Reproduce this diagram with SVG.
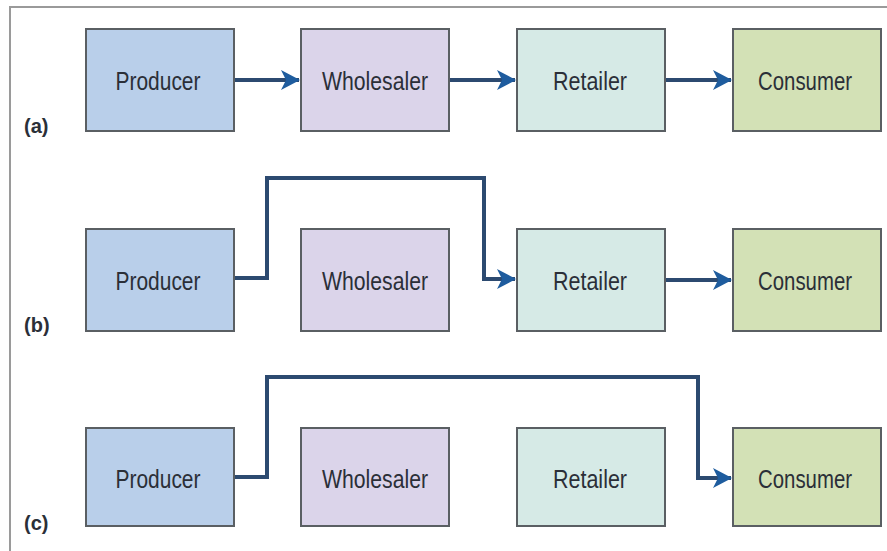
<svg xmlns="http://www.w3.org/2000/svg" width="887" height="551" viewBox="0 0 887 551">
<style>
.box{stroke:#5a5f63;stroke-width:2}
.p{fill:#b9cfea}.w{fill:#dbd4ea}.r{fill:#d6eae6}.c{fill:#d3e1b6}
.t{font-family:"Liberation Sans",Arial,sans-serif;font-size:25px;fill:#2b2f38;text-anchor:middle}
.lbl{font-family:"Liberation Sans",Arial,sans-serif;font-size:20px;font-weight:bold;fill:#2b2f38}
.ln{fill:none;stroke:#2c4a70;stroke-width:4}
</style>
<defs>
<marker id="a2" markerWidth="22" markerHeight="22" refX="19" refY="11" orient="auto" markerUnits="userSpaceOnUse">
<path d="M1,1 L20,11 L1,21 L6,11 Z" fill="#1e5c9e"/>
</marker>
</defs>
<rect x="0" y="0" width="887" height="551" fill="#ffffff"/>
<path d="M10,551 L10,7 L887,7" fill="none" stroke="#9a9a9a" stroke-width="2"/>
<g id="row-a">
<g id="a-producer"><rect class="box p" x="86" y="29" width="148" height="102"/><text class="t" x="158" y="90" textLength="85" lengthAdjust="spacingAndGlyphs">Producer</text></g>
<g id="a-wholesaler"><rect class="box w" x="301" y="29" width="148" height="102"/><text class="t" x="375" y="90" textLength="106" lengthAdjust="spacingAndGlyphs">Wholesaler</text></g>
<g id="a-retailer"><rect class="box r" x="517" y="29" width="148" height="102"/><text class="t" x="590" y="90" textLength="74" lengthAdjust="spacingAndGlyphs">Retailer</text></g>
<g id="a-consumer"><rect class="box c" x="733" y="29" width="148" height="102"/><text class="t" x="805" y="90" textLength="94" lengthAdjust="spacingAndGlyphs">Consumer</text></g>
<text class="lbl" x="24" y="133">(a)</text>
</g>
<g id="row-b">
<g id="b-producer"><rect class="box p" x="86" y="229" width="148" height="102"/><text class="t" x="158" y="290" textLength="85" lengthAdjust="spacingAndGlyphs">Producer</text></g>
<g id="b-wholesaler"><rect class="box w" x="301" y="229" width="148" height="102"/><text class="t" x="375" y="290" textLength="106" lengthAdjust="spacingAndGlyphs">Wholesaler</text></g>
<g id="b-retailer"><rect class="box r" x="517" y="229" width="148" height="102"/><text class="t" x="590" y="290" textLength="74" lengthAdjust="spacingAndGlyphs">Retailer</text></g>
<g id="b-consumer"><rect class="box c" x="733" y="229" width="148" height="102"/><text class="t" x="805" y="290" textLength="94" lengthAdjust="spacingAndGlyphs">Consumer</text></g>
<text class="lbl" x="24" y="332">(b)</text>
</g>
<g id="row-c">
<g id="c-producer"><rect class="box p" x="86" y="428" width="148" height="98"/><text class="t" x="158" y="488" textLength="85" lengthAdjust="spacingAndGlyphs">Producer</text></g>
<g id="c-wholesaler"><rect class="box w" x="301" y="428" width="148" height="98"/><text class="t" x="375" y="488" textLength="106" lengthAdjust="spacingAndGlyphs">Wholesaler</text></g>
<g id="c-retailer"><rect class="box r" x="517" y="428" width="148" height="98"/><text class="t" x="590" y="488" textLength="74" lengthAdjust="spacingAndGlyphs">Retailer</text></g>
<g id="c-consumer"><rect class="box c" x="733" y="428" width="148" height="98"/><text class="t" x="805" y="488" textLength="94" lengthAdjust="spacingAndGlyphs">Consumer</text></g>
<text class="lbl" x="24" y="530">(c)</text>
</g>
<g id="connectors">
<path class="ln" d="M235,80 L299,80" marker-end="url(#a2)"/>
<path class="ln" d="M450,80 L515,80" marker-end="url(#a2)"/>
<path class="ln" d="M666,80 L731,80" marker-end="url(#a2)"/>
<path class="ln" d="M235,278 L267,278 L267,178 L484,178 L484,279 L515,279" marker-end="url(#a2)"/>
<path class="ln" d="M666,280 L731,280" marker-end="url(#a2)"/>
<path class="ln" d="M235,477 L267,477 L267,377 L698,377 L698,478 L731,478" marker-end="url(#a2)"/>
</g>
</svg>
